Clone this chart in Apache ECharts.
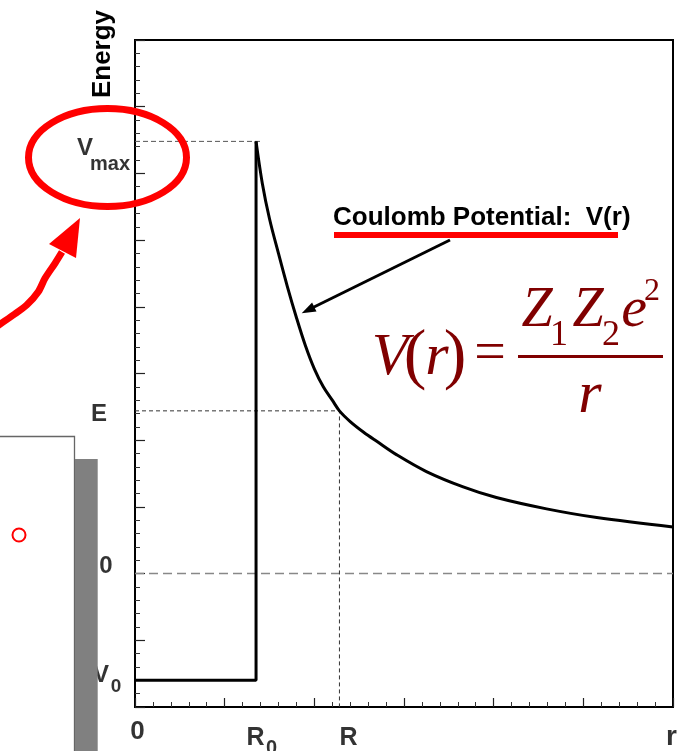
<!DOCTYPE html>
<html>
<head>
<meta charset="utf-8">
<script src="https://cdn.jsdelivr.net/npm/echarts@6/dist/echarts.min.js"></script>
<style>
  html, body { margin: 0; padding: 0; background: #fff; }
  #chart { width: 677px; height: 751px; }
</style>
</head>
<body>
<div id="chart"></div>
<script>
// Energy levels on the vertical axis (0 is the zero-energy reference)
const levelNames = ['V0', '0', 'E', 'Vmax'];
const levelValues = [-1.6, 0, 2.44, 6.48];

// Radii on the horizontal axis
const radiusNames = ['0', 'R0', 'R', 'r'];
const radiusValues = [0, 1.35, 2.28, 6];

// Coulomb barrier outside the nuclear radius
const coulombR = [1.35, 1.42, 1.50, 1.60, 1.70, 1.80, 1.90, 2.00, 2.10, 2.20, 2.28, 2.40, 2.55, 2.70, 2.92, 3.25, 3.66, 4.03, 4.59, 5.15, 6.00];
const coulombV = [6.48, 5.85, 5.32, 4.80, 4.30, 3.84, 3.42, 3.07, 2.80, 2.60, 2.44, 2.28, 2.12, 1.98, 1.78, 1.53, 1.30, 1.14, 0.97, 0.84, 0.70];

// Where the Vmax guide stops, just past the barrier top
const vmaxGuideEnd = 1.42;

// Axis extents
const xRange = [0, 6];
const yRange = [-2, 8];

const lv = name => levelValues[levelNames.indexOf(name)];
const rv = name => radiusValues[radiusNames.indexOf(name)];

const V0 = lv('V0'), E = lv('E'), Vmax = lv('Vmax');
const R0 = rv('R0'), R = rv('R'), rMax = rv('r');

const sans = '"Liberation Sans", Arial, Helvetica, sans-serif';
const serif = '"Liberation Serif", "Times New Roman", serif';

// A text tag sitting at a data point, nudged by a pixel offset
function tag(x, y, text, size, dx, dy) {
  return {
    value: [x, y],
    label: {
      show: true, position: 'inside', offset: [dx, dy], formatter: text,
      fontSize: size, fontWeight: 'bold', color: '#000', fontFamily: sans,
      align: 'center', verticalAlign: 'middle'
    }
  };
}

const tags = [
  tag(0, Vmax, 'V', 24, -50, 7),
  tag(0, Vmax, 'max', 20, -25, 23),
  tag(0, E, 'E', 24, -36, 4),
  tag(0, 0, '0', 24, -29, -7),
  tag(0, V0, 'V', 24, -34, -5),
  tag(0, V0, '0', 19, -19, 6),
  tag(rv('0'), yRange[0], '0', 26, 2.5, 25),
  tag(R0, yRange[0], 'R', 25, -0.5, 31),
  tag(R0, yRange[0], '0', 20, 15.5, 41),
  tag(R, yRange[0], 'R', 25, 9, 31),
  tag(rMax, yRange[0], 'r', 28, -1.5, 30)
];

function mathText(text, cx, cy, size, italic) {
  return {
    type: 'text', x: cx, y: cy, z: 100,
    style: {
      text: text, fill: '#800000',
      font: (italic ? 'italic ' : '') + size + 'px ' + serif,
      textAlign: 'center', textVerticalAlign: 'middle',
      align: 'center', verticalAlign: 'middle'
    }
  };
}

const graphics = [
  // axis title
  {
    type: 'text', x: 103, y: 54, rotation: Math.PI / 2, z: 100,
    style: {
      text: 'Energy', fill: '#000', font: 'bold 26px ' + sans,
      textAlign: 'center', textVerticalAlign: 'middle', align: 'center', verticalAlign: 'middle'
    }
  },
  // callout for the Coulomb branch
  {
    type: 'text', x: 333, y: 218, z: 100,
    style: {
      text: 'Coulomb Potential:  V(r)', fill: '#000', font: 'bold 26px ' + sans,
      textAlign: 'left', textVerticalAlign: 'middle', align: 'left', verticalAlign: 'middle'
    }
  },
  { type: 'rect', z: 101, shape: { x: 334, y: 232, width: 284, height: 6 }, style: { fill: '#ff0000' } },
  { type: 'line', z: 100, shape: { x1: 450, y1: 240, x2: 313, y2: 307.5 }, style: { stroke: '#000', lineWidth: 3 } },
  { type: 'polygon', z: 100, shape: { points: [[301.7, 313.3], [316.5, 311.6], [312.1, 302.6]] }, style: { fill: '#000' } },

  // V(r) = Z1 Z2 e^2 / r
  mathText('V', 390, 358, 60, true),
  mathText('(', 415, 358, 68, false),
  mathText('r', 437, 358, 60, true),
  mathText(')', 455, 358, 68, false),
  mathText('=', 490, 355, 56, false),
  mathText('Z', 537, 311, 56, true),
  mathText('1', 559, 336, 36, false),
  mathText('Z', 588, 311, 56, true),
  mathText('2', 611, 336, 36, false),
  mathText('e', 634, 311, 58, true),
  mathText('2', 652, 292, 32, false),
  { type: 'rect', z: 100, shape: { x: 518, y: 355, width: 145, height: 3 }, style: { fill: '#800000' } },
  mathText('r', 590, 396, 60, true),

  // highlight ring around Vmax and the pointer towards it
  { type: 'ellipse', z: 100, shape: { cx: 107.5, cy: 157.5, rx: 79, ry: 49 }, style: { fill: 'none', stroke: '#ff0000', lineWidth: 7 } },
  {
    type: 'polyline', z: 100,
    shape: { points: [[-10, 331], [13.3, 315], [26.7, 305], [38.3, 291.7], [45, 278.3], [55, 263.3], [62, 252]], smooth: 0.3 },
    style: { fill: 'none', stroke: '#ff0000', lineWidth: 7 }
  },
  { type: 'polygon', z: 100, shape: { points: [[80, 218], [49, 244], [76, 258]] }, style: { fill: '#ff0000' } },

  // panel edge at the left
  { type: 'rect', z: 100, shape: { x: -5, y: 436.5, width: 79.5, height: 330 }, style: { fill: '#fff', stroke: '#666', lineWidth: 1.3 } },
  { type: 'rect', z: 101, shape: { x: 75, y: 459, width: 22.7, height: 300 }, style: { fill: '#808080' } },
  { type: 'circle', z: 100, shape: { cx: 19, cy: 535, r: 6.5 }, style: { fill: 'none', stroke: '#ff0000', lineWidth: 2 } }
];

const chart = echarts.init(document.getElementById('chart'), null, { renderer: 'canvas' });

chart.setOption({
  animation: false,
  backgroundColor: '#fff',
  grid: {
    left: 135, top: 40, width: 538, height: 667,
    show: true, borderColor: '#000', borderWidth: 2, backgroundColor: 'transparent'
  },
  xAxis: {
    type: 'value', min: xRange[0], max: xRange[1], interval: 1,
    axisLine: { show: true, onZero: false, lineStyle: { color: '#000', width: 2 } },
    axisTick: { show: true, inside: true, length: 9, lineStyle: { color: '#222', width: 1.2 } },
    minorTick: { show: true, splitNumber: 5, length: 5, lineStyle: { color: '#333', width: 1 } },
    axisLabel: { show: false },
    splitLine: { show: false }
  },
  yAxis: {
    type: 'value', min: yRange[0], max: yRange[1], interval: 1,
    axisLine: { show: true, onZero: false, lineStyle: { color: '#000', width: 2 } },
    axisTick: { show: true, inside: true, length: 10, lineStyle: { color: '#222', width: 1.2 } },
    minorTick: { show: true, splitNumber: 5, length: 5, lineStyle: { color: '#333', width: 1 } },
    axisLabel: { show: false },
    splitLine: { show: false }
  },
  series: [
    {
      name: 'zero', type: 'line', symbol: 'none', silent: true,
      data: [[xRange[0], 0], [xRange[1], 0]],
      lineStyle: { color: '#888', width: 1.5, type: [9, 5] }
    },
    {
      name: 'Vmax guide', type: 'line', symbol: 'none', silent: true,
      data: [[0, Vmax], [vmaxGuideEnd, Vmax]],
      lineStyle: { color: '#555', width: 1, type: [5, 3] }
    },
    {
      name: 'E guide', type: 'line', symbol: 'none', silent: true,
      data: [[0, E], [R, E], [R, yRange[0]]],
      lineStyle: { color: '#333', width: 1, type: [4, 3] }
    },
    {
      name: 'nuclear well', type: 'line', symbol: 'none',
      data: [[0, V0], [R0, V0], [R0, Vmax]],
      lineStyle: { color: '#000', width: 3 }
    },
    {
      name: 'Coulomb', type: 'line', symbol: 'none', smooth: 0.35,
      data: coulombR.map((r, i) => [r, coulombV[i]]),
      lineStyle: { color: '#000', width: 3 }
    },
    {
      name: 'tags', type: 'scatter', symbolSize: 1, silent: true,
      itemStyle: { color: 'transparent' },
      data: tags, z: 5
    }
  ],
  graphic: { elements: graphics }
});
</script>
</body>
</html>
